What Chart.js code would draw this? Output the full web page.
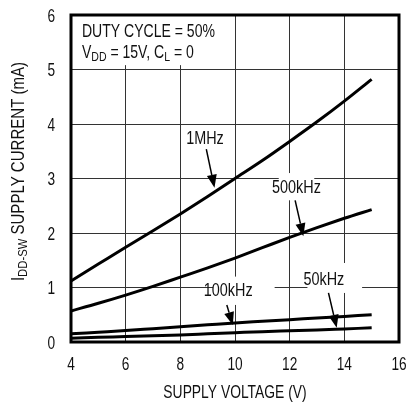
<!DOCTYPE html>
<html>
<head>
<meta charset="utf-8">
<script src="https://cdn.jsdelivr.net/npm/chart.js@4.4.1/dist/chart.umd.min.js"></script>
<style>
  html, body { margin: 0; padding: 0; background: #fff; }
  #wrap { width: 406px; height: 402px; }
</style>
</head>
<body>
<div id="wrap"><canvas id="chart" width="406" height="402"></canvas></div>
<script>
// supply voltage (V)
const voltages = [4, 5, 6, 7, 8, 9, 10, 11, 12, 13, 14, 15];
// I_DD-SW (mA) per switching frequency
const current1MHz   = [1.12, 1.43, 1.74, 2.04, 2.35, 2.67, 3.00, 3.33, 3.68, 4.04, 4.42, 4.82];
const current500kHz = [0.57, 0.71, 0.86, 1.02, 1.19, 1.36, 1.54, 1.73, 1.92, 2.10, 2.27, 2.43];
const current100kHz = [0.15, 0.18, 0.21, 0.245, 0.28, 0.315, 0.35, 0.38, 0.41, 0.44, 0.47, 0.50];
const current50kHz  = [0.07, 0.085, 0.10, 0.115, 0.13, 0.15, 0.17, 0.19, 0.205, 0.22, 0.24, 0.26];

const xTicks = [4, 6, 8, 10, 12, 14, 16];
const yTicks = [0, 1, 2, 3, 4, 5, 6];

// curve labels: text, label centre, arrow start, arrow tip, white box [x0,x1,y0,y1] (data units)
const curveLabels = [
  { text: '1MHz',   at: [8.9, 3.72],  from: [8.95, 3.54], to: [9.25, 2.83], box: null },
  { text: '500kHz', at: [12.25, 2.83], from: [12.2, 2.6],  to: [12.5, 1.94], box: [11.6, 12.9, 3.1, 2.6] },
  { text: '100kHz', at: [9.75, 0.93], from: [9.7, 0.68],  to: [9.92, 0.31], box: [9.2, 11.45, 1.2, 0.68] },
  { text: '50kHz',  at: [13.25, 1.14], from: [13.42, 0.9], to: [13.72, 0.26], box: [12.65, 14.65, 1.45, 0.9] }
];

const FONT = "'Liberation Sans', Arial, sans-serif";
const SQ = 0.78; // horizontal squeeze, the original uses a narrow face

const toPoints = (ys) => voltages.map((v, i) => ({ x: v, y: ys[i] }));

function arrow(ctx, x1, y1, x2, y2) {
  const ang = Math.atan2(y2 - y1, x2 - x1);
  const len = 13, half = 5;
  const bx = x2 - len * Math.cos(ang), by = y2 - len * Math.sin(ang);
  ctx.beginPath();
  ctx.moveTo(x1, y1);
  ctx.lineTo(bx, by);
  ctx.lineWidth = 1.5;
  ctx.strokeStyle = '#000';
  ctx.stroke();
  ctx.beginPath();
  ctx.moveTo(x2, y2);
  ctx.lineTo(bx + half * Math.sin(ang), by - half * Math.cos(ang));
  ctx.lineTo(bx - half * Math.sin(ang), by + half * Math.cos(ang));
  ctx.closePath();
  ctx.fillStyle = '#000';
  ctx.fill();
}

// text pieces [text, isSub], squeezed by sx, aligned left / center / right at x
function richText(ctx, parts, x, y, size, sx, align) {
  ctx.save();
  ctx.textAlign = 'left';
  let w = 0;
  for (const [t, sub] of parts) {
    ctx.font = (sub ? size * 0.75 : size) + 'px ' + FONT;
    w += ctx.measureText(t).width;
  }
  ctx.translate(x, y);
  ctx.scale(sx, 1);
  let cx = align === 'center' ? -w / 2 : align === 'right' ? -w : 0;
  for (const [t, sub] of parts) {
    ctx.font = (sub ? size * 0.75 : size) + 'px ' + FONT;
    ctx.fillText(t, cx, sub ? size * 0.22 : 0);
    cx += ctx.measureText(t).width;
  }
  ctx.restore();
}

const annotations = {
  id: 'annotations',
  beforeDatasetsDraw(chart) {
    const { ctx, scales: { x, y } } = chart;
    ctx.save();
    // white box behind conditions text
    ctx.fillStyle = '#fff';
    ctx.fillRect(x.getPixelForValue(4), y.getPixelForValue(6), x.getPixelForValue(9.6) - x.getPixelForValue(4), y.getPixelForValue(5.08) - y.getPixelForValue(6));
    ctx.fillStyle = '#111';
    ctx.textBaseline = 'alphabetic';
    richText(ctx, [['DUTY CYCLE = 50%', false]], x.getPixelForValue(4.4), y.getPixelForValue(5.6), 18, SQ, 'left');
    richText(ctx, [['V', false], ['DD', true], [' = 15V, C', false], ['L', true], [' = 0', false]], x.getPixelForValue(4.4), y.getPixelForValue(5.22), 18, SQ, 'left');

    for (const lab of curveLabels) {
      if (lab.box) {
        const [x0, x1, y0, y1] = lab.box;
        ctx.fillStyle = '#fff';
        ctx.fillRect(x.getPixelForValue(x0), y.getPixelForValue(y0), x.getPixelForValue(x1) - x.getPixelForValue(x0), y.getPixelForValue(y1) - y.getPixelForValue(y0));
      }
      ctx.fillStyle = '#111';
      ctx.textBaseline = 'middle';
      richText(ctx, [[lab.text, false]], x.getPixelForValue(lab.at[0]), y.getPixelForValue(lab.at[1]), 18, 0.8, 'center');
    }
    ctx.restore();
  },
  afterDatasetsDraw(chart) {
    const { ctx, chartArea: a, scales: { x, y } } = chart;
    ctx.save();
    for (const lab of curveLabels) {
      arrow(ctx, x.getPixelForValue(lab.from[0]), y.getPixelForValue(lab.from[1]),
                 x.getPixelForValue(lab.to[0]), y.getPixelForValue(lab.to[1]));
    }
    // heavy frame
    ctx.strokeStyle = '#000';
    ctx.lineWidth = 3;
    ctx.strokeRect(a.left, a.top, a.right - a.left, a.bottom - a.top);
    ctx.restore();
  },
  afterDraw(chart) {
    const { ctx, chartArea: a, scales: { x, y } } = chart;
    ctx.save();
    ctx.fillStyle = '#111';
    ctx.textBaseline = 'middle';
    // tick labels in the narrow face
    for (const v of xTicks) richText(ctx, [[String(v), false]], x.getPixelForValue(v), a.bottom + 23, 18, 0.76, 'center');
    for (const v of yTicks) richText(ctx, [[String(v), false]], a.left - 16, y.getPixelForValue(v) + 2, 18, 0.76, 'right');
    // x title
    richText(ctx, [['SUPPLY VOLTAGE (V)', false]], (a.left + a.right) / 2, 393, 18, 0.77, 'center');
    // y title, rotated, with subscript
    ctx.translate(19, (a.top + a.bottom) / 2 - 7);
    ctx.rotate(-Math.PI / 2);
    richText(ctx, [['I', false], ['DD-SW', true], [' SUPPLY CURRENT (mA)', false]], 0, 0, 18, 0.835, 'center');
    ctx.restore();
  }
};

new Chart(document.getElementById('chart'), {
  type: 'line',
  data: {
    datasets: [
      { label: '1MHz', data: toPoints(current1MHz) },
      { label: '500kHz', data: toPoints(current500kHz) },
      { label: '100kHz', data: toPoints(current100kHz) },
      { label: '50kHz', data: toPoints(current50kHz) }
    ].map(d => Object.assign(d, {
      borderColor: '#000',
      borderWidth: 3,
      pointRadius: 0,
      cubicInterpolationMode: 'monotone',
      fill: false
    }))
  },
  options: {
    responsive: false,
    animation: false,
    layout: { padding: { top: 15, right: 7, left: 0, bottom: 0 } },
    plugins: { legend: { display: false }, tooltip: { enabled: false } },
    scales: {
      x: {
        type: 'linear',
        min: 4, max: 16,
        afterBuildTicks: (s) => { s.ticks = xTicks.map(v => ({ value: v })); },
        afterFit: (s) => { s.height = 60; s.paddingLeft = 0; s.paddingRight = 0; },
        grid: { color: '#333', lineWidth: 1, drawTicks: false },
        border: { display: false },
        ticks: { display: false }
      },
      y: {
        min: 0, max: 6,
        afterBuildTicks: (s) => { s.ticks = yTicks.map(v => ({ value: v })); },
        afterFit: (s) => { s.width = 71; s.paddingTop = 0; s.paddingBottom = 0; },
        grid: { color: '#333', lineWidth: 1, drawTicks: false },
        border: { display: false },
        ticks: { display: false }
      }
    }
  },
  plugins: [annotations]
});
</script>
</body>
</html>
